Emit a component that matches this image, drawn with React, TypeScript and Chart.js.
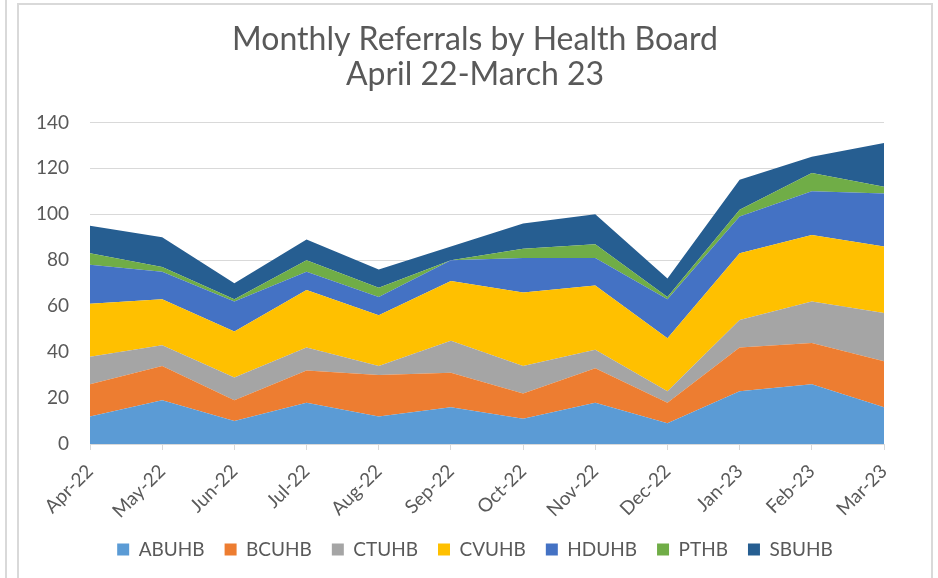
import React, { useEffect, useRef } from "react";
import { Chart, registerables } from "chart.js";

Chart.register(...registerables);

const months = ["Apr-22", "May-22", "Jun-22", "Jul-22", "Aug-22", "Sep-22", "Oct-22", "Nov-22", "Dec-22", "Jan-23", "Feb-23", "Mar-23"];
const ABUHB = [12, 19, 10, 18, 12, 16, 11, 18, 9, 23, 26, 16];
const BCUHB = [14, 15, 9, 14, 18, 15, 11, 15, 9, 19, 18, 20];
const CTUHB = [12, 9, 10, 10, 4, 14, 12, 8, 5, 12, 18, 21];
const CVUHB = [23, 20, 20, 25, 22, 26, 32, 28, 23, 29, 29, 29];
const HDUHB = [17, 12, 13, 8, 8, 9, 15, 12, 17, 16, 19, 23];
const PTHB = [5, 2, 1, 5, 4, 0, 4, 6, 1, 3, 8, 3];
const SBUHB = [12, 13, 7, 9, 8, 6, 11, 13, 8, 13, 7, 19];

const seriesNames = ["ABUHB", "BCUHB", "CTUHB", "CVUHB", "HDUHB", "PTHB", "SBUHB"];
const seriesValues = [ABUHB, BCUHB, CTUHB, CVUHB, HDUHB, PTHB, SBUHB];
const seriesColors = ["#5B9BD5", "#ED7D31", "#A5A5A5", "#FFC000", "#4472C4", "#70AD47", "#265E91"];

const FONT = "Lato";
const TEXT = "#595959";

export default function App() {
  const ref = useRef<HTMLCanvasElement | null>(null);
  useEffect(() => {
    if (!ref.current) return;
    const chart = new Chart(ref.current, {
      type: "line",
      data: {
        labels: months,
        datasets: seriesNames.map((n, i) => ({
          label: n,
          data: seriesValues[i],
          backgroundColor: seriesColors[i],
          borderColor: seriesColors[i],
          borderWidth: 0,
          pointRadius: 0,
          fill: i === 0 ? "origin" : "-1",
          tension: 0,
        })),
      },
      options: {
        responsive: false,
        animation: false,
        layout: { padding: { left: 48, right: 48, top: 0, bottom: 9 } },
        plugins: {
          title: {
            display: true,
            text: ["Monthly Referrals by Health Board", "April 22-March 23"],
            color: TEXT,
            font: { family: FONT, size: 32, weight: "normal", lineHeight: 1.1 },
            padding: { top: 18, bottom: 30 },
          },
          legend: {
            position: "bottom",
            labels: {
              color: TEXT,
              font: { family: FONT, size: 19 },
              boxWidth: 12,
              boxHeight: 12,
              padding: 20,
            },
          },
          tooltip: { enabled: false },
        },
        scales: {
          x: {
            offset: false,
            grid: { display: true, drawOnChartArea: false, drawTicks: true, tickLength: 6, color: "#D9D9D9" },
            border: { color: "#D9D9D9", width: 1 },
            ticks: { color: TEXT, font: { family: FONT, size: 19 }, minRotation: 45, maxRotation: 45, padding: 10 },
            afterFit: (s: any) => { s.height = 76; },
          },
          y: {
            stacked: true,
            min: 0,
            max: 140,
            grid: { color: "#D9D9D9", drawTicks: false, lineWidth: 1 },
            border: { display: false },
            ticks: { stepSize: 20, color: TEXT, font: { family: FONT, size: 19 }, padding: 21 },
            afterFit: (s: any) => {
              s.width = 24;
              s._computeLabelArea = () => undefined;
            },
          },
        },
      },
    });
    return () => chart.destroy();
  }, []);
  return (
    <div style={{ position: "absolute", left: 0, top: 0, width: 938, height: 578, background: "#fff", overflow: "hidden" }}>
      <div style={{ position: "absolute", left: 5, top: 0, width: 2, height: 578, background: "#D9D9D9" }} />
      <div style={{ position: "absolute", left: 17, top: 3, width: 916, height: 600, boxSizing: "border-box", border: "2px solid #D9D9D9", borderBottom: "none" }} />
      <canvas ref={ref} width={914} height={574} style={{ position: "absolute", left: 18, top: 4, width: 914, height: 574 }} />
    </div>
  );
}
